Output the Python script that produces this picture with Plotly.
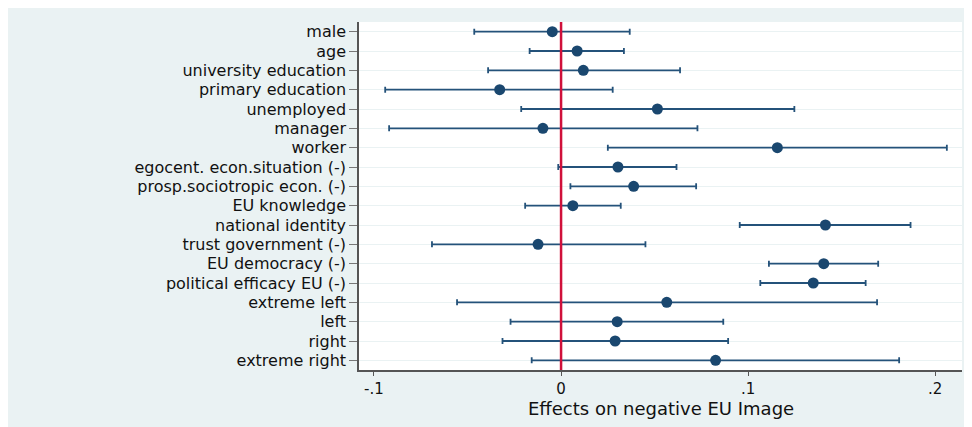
import plotly.graph_objs as go

labels = ["male", "age", "university education", "primary education", "unemployed",
          "manager", "worker", "egocent. econ.situation (-)", "prosp.sociotropic econ. (-)",
          "EU knowledge", "national identity", "trust government (-)", "EU democracy (-)",
          "political efficacy EU (-)", "extreme left", "left", "right", "extreme right"]

effect = [-0.0047, 0.0086, 0.0119, -0.0328, 0.0515, -0.0097, 0.1156, 0.0304, 0.0388,
          0.0063, 0.1413, -0.0123, 0.1404, 0.1348, 0.0565, 0.0300, 0.0289, 0.0826]
lower = [-0.0464, -0.0168, -0.0390, -0.0940, -0.0213, -0.0919, 0.0250, -0.0015, 0.0050,
         -0.0192, 0.0955, -0.0690, 0.1111, 0.1065, -0.0556, -0.0270, -0.0313, -0.0157]
upper = [0.0367, 0.0336, 0.0636, 0.0276, 0.1247, 0.0729, 0.2062, 0.0617, 0.0722,
         0.0319, 0.1868, 0.0451, 0.1695, 0.1628, 0.1689, 0.0867, 0.0893, 0.1807]

x_ticks = [-0.1, 0, 0.1, 0.2]
x_tick_labels = ["-.1", "0", ".1", ".2"]
ref_line = 0

navy = "#1a476f"
bg = "#eaf2f3"
# the page body adds 8px at top/left, margins are set with that in mind
W, H = 972, 427
ml, mr, mt, mb = 351, 18, 14, 65

fig = go.Figure()
fig.add_trace(go.Scatter(
    x=effect, y=labels, mode="markers",
    marker=dict(color=navy, size=11),
    error_x=dict(type="data", symmetric=False,
                 array=[u - e for u, e in zip(upper, effect)],
                 arrayminus=[e - l for e, l in zip(effect, lower)],
                 color="#24527a", thickness=1.8, width=3),
    showlegend=False))

fig.add_vline(x=ref_line, line=dict(color="#d0103a", width=2.5))

ph = H - mt - mb
# axis title placed just under the tick labels
fig.add_annotation(text="Effects on negative EU Image", xref="paper", yref="paper",
                   x=0.5, y=-38 / ph, xanchor="center", yanchor="middle",
                   showarrow=False, font=dict(size=18))

fig.update_layout(
    width=W, height=H,
    margin=dict(l=ml, r=mr, t=mt, b=mb),
    paper_bgcolor=bg, plot_bgcolor="white",
    font=dict(family="DejaVu Sans", color="#111111", size=16),
    xaxis=dict(range=[-0.108, 0.2143], tickvals=x_ticks, ticktext=x_tick_labels,
               showgrid=False, zeroline=False, showline=True, linecolor="#555555",
               linewidth=1.5, ticks="outside", ticklen=4, tickcolor="#555555",
               tickfont=dict(size=15), automargin=False),
    yaxis=dict(categoryorder="array", categoryarray=labels,
               range=[len(labels) - 0.5, -0.5],
               showgrid=True, gridcolor=bg, gridwidth=1, zeroline=False,
               showline=True, linecolor="#555555", linewidth=1.5,
               ticks="outside", ticklen=8, tickcolor="#777777",
               tickfont=dict(size=16), automargin=False),
)

fig.write_html("out.html")
